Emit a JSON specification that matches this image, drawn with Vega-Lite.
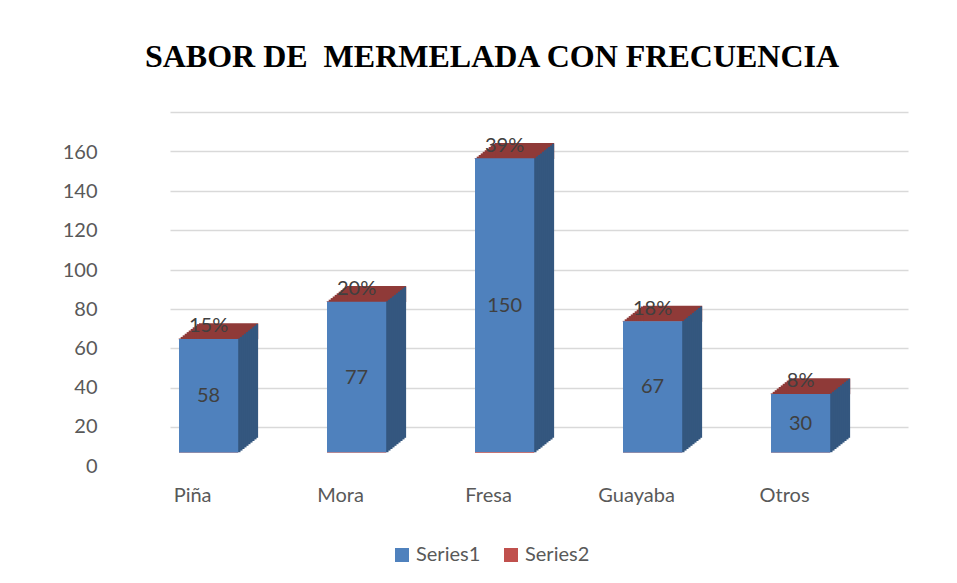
{
  "$schema": "https://vega.github.io/schema/vega-lite/v6.json",
  "width": 738,
  "height": 365,
  "autosize": {"type": "none"},
  "padding": {"left": 170, "top": 100, "right": 49, "bottom": 118},
  "background": "white",
  "config": {"view": {"stroke": null}, "font": "Lato"},
  "title": {
    "text": "SABOR DE\u00a0 MERMELADA CON FRECUENCIA",
    "font": "Liberation Serif",
    "fontSize": 32,
    "fontWeight": "bold",
    "color": "#000000",
    "anchor": "middle",
    "frame": "group",
    "dx": -47,
    "offset": 1,
    "baseline": "alphabetic"
  },
  "data": {
    "values": [
      {"Sabor": "Piña", "Series1": 58, "Series2": 0.15},
      {"Sabor": "Mora", "Series1": 77, "Series2": 0.20},
      {"Sabor": "Fresa", "Series1": 150, "Series2": 0.39},
      {"Sabor": "Guayaba", "Series1": 67, "Series2": 0.18},
      {"Sabor": "Otros", "Series1": 30, "Series2": 0.08}
    ]
  },
  "transform": [{"fold": ["Series1", "Series2"], "as": ["serie", "valor"]}],
  "layer": [
    {
      "mark": {"type": "point", "opacity": 0},
      "encoding": {
        "x": {"field": "Sabor", "type": "nominal", "sort": null, "scale": {"paddingInner": 0.6, "paddingOuter": 0.2932, "align": 0.1037}},
        "y": {
          "field": "Series1", "type": "quantitative",
          "scale": {"domain": [0, 160], "range": [327, 12], "nice": false},
          "axis": {"orient": "right", "grid": true, "gridColor": "#D9D9D9", "gridWidth": 1.5, "labels": false, "ticks": false, "domain": false, "title": null, "values": [0, 20, 40, 60, 80, 100, 120, 140, 160]}
        }
      }
    },
    {
      "transform": [{"filter": {"field": "serie", "equal": "Series1"}}],
      "mark": {"type": "bar", "color": "#8F3A38", "xOffset": 20, "yOffset": -16},
      "encoding": {
        "x": {"field": "Sabor", "type": "nominal", "sort": null},
        "y": {"field": "Series1", "type": "quantitative", "scale": {"domain": [0, 160], "range": [353, 39.4], "nice": false}, "axis": null},
        "y2": {"field": "Series1"}
      }
    },
    {"transform": [{"filter": {"field": "serie", "equal": "Series1"}}], "mark": {"type": "bar", "color": "#8F3A38", "width": 2.6, "xOffset": -28.6, "yOffset": -0.8, "y2Offset": 0}, "encoding": {"x": {"field": "Sabor", "type": "nominal", "sort": null}, "y": {"field": "Series1", "type": "quantitative", "scale": {"domain": [0, 160], "range": [353, 39.4], "nice": false}, "axis": null}, "y2": {"field": "Series1"}}},
    {"transform": [{"filter": {"field": "serie", "equal": "Series1"}}], "mark": {"type": "bar", "color": "#8F3A38", "width": 2.6, "xOffset": -26.6, "yOffset": -2.4, "y2Offset": 0}, "encoding": {"x": {"field": "Sabor", "type": "nominal", "sort": null}, "y": {"field": "Series1", "type": "quantitative", "scale": {"domain": [0, 160], "range": [353, 39.4], "nice": false}, "axis": null}, "y2": {"field": "Series1"}}},
    {"transform": [{"filter": {"field": "serie", "equal": "Series1"}}], "mark": {"type": "bar", "color": "#8F3A38", "width": 2.6, "xOffset": -24.6, "yOffset": -4.0, "y2Offset": 0}, "encoding": {"x": {"field": "Sabor", "type": "nominal", "sort": null}, "y": {"field": "Series1", "type": "quantitative", "scale": {"domain": [0, 160], "range": [353, 39.4], "nice": false}, "axis": null}, "y2": {"field": "Series1"}}},
    {"transform": [{"filter": {"field": "serie", "equal": "Series1"}}], "mark": {"type": "bar", "color": "#8F3A38", "width": 2.6, "xOffset": -22.6, "yOffset": -5.6, "y2Offset": 0}, "encoding": {"x": {"field": "Sabor", "type": "nominal", "sort": null}, "y": {"field": "Series1", "type": "quantitative", "scale": {"domain": [0, 160], "range": [353, 39.4], "nice": false}, "axis": null}, "y2": {"field": "Series1"}}},
    {"transform": [{"filter": {"field": "serie", "equal": "Series1"}}], "mark": {"type": "bar", "color": "#8F3A38", "width": 2.6, "xOffset": -20.6, "yOffset": -7.2, "y2Offset": 0}, "encoding": {"x": {"field": "Sabor", "type": "nominal", "sort": null}, "y": {"field": "Series1", "type": "quantitative", "scale": {"domain": [0, 160], "range": [353, 39.4], "nice": false}, "axis": null}, "y2": {"field": "Series1"}}},
    {"transform": [{"filter": {"field": "serie", "equal": "Series1"}}], "mark": {"type": "bar", "color": "#8F3A38", "width": 2.6, "xOffset": -18.6, "yOffset": -8.8, "y2Offset": 0}, "encoding": {"x": {"field": "Sabor", "type": "nominal", "sort": null}, "y": {"field": "Series1", "type": "quantitative", "scale": {"domain": [0, 160], "range": [353, 39.4], "nice": false}, "axis": null}, "y2": {"field": "Series1"}}},
    {"transform": [{"filter": {"field": "serie", "equal": "Series1"}}], "mark": {"type": "bar", "color": "#8F3A38", "width": 2.6, "xOffset": -16.6, "yOffset": -10.4, "y2Offset": 0}, "encoding": {"x": {"field": "Sabor", "type": "nominal", "sort": null}, "y": {"field": "Series1", "type": "quantitative", "scale": {"domain": [0, 160], "range": [353, 39.4], "nice": false}, "axis": null}, "y2": {"field": "Series1"}}},
    {"transform": [{"filter": {"field": "serie", "equal": "Series1"}}], "mark": {"type": "bar", "color": "#8F3A38", "width": 2.6, "xOffset": -14.6, "yOffset": -12.0, "y2Offset": 0}, "encoding": {"x": {"field": "Sabor", "type": "nominal", "sort": null}, "y": {"field": "Series1", "type": "quantitative", "scale": {"domain": [0, 160], "range": [353, 39.4], "nice": false}, "axis": null}, "y2": {"field": "Series1"}}},
    {"transform": [{"filter": {"field": "serie", "equal": "Series1"}}], "mark": {"type": "bar", "color": "#8F3A38", "width": 2.6, "xOffset": -12.6, "yOffset": -13.6, "y2Offset": 0}, "encoding": {"x": {"field": "Sabor", "type": "nominal", "sort": null}, "y": {"field": "Series1", "type": "quantitative", "scale": {"domain": [0, 160], "range": [353, 39.4], "nice": false}, "axis": null}, "y2": {"field": "Series1"}}},
    {"transform": [{"filter": {"field": "serie", "equal": "Series1"}}], "mark": {"type": "bar", "color": "#8F3A38", "width": 2.6, "xOffset": -10.6, "yOffset": -15.2, "y2Offset": 0}, "encoding": {"x": {"field": "Sabor", "type": "nominal", "sort": null}, "y": {"field": "Series1", "type": "quantitative", "scale": {"domain": [0, 160], "range": [353, 39.4], "nice": false}, "axis": null}, "y2": {"field": "Series1"}}},
    {"transform": [{"filter": {"field": "serie", "equal": "Series1"}}], "mark": {"type": "bar", "color": "#34577F", "width": 2.6, "xOffset": 30.6, "yOffset": -0.8, "y2Offset": -0.8}, "encoding": {"x": {"field": "Sabor", "type": "nominal", "sort": null}, "y": {"field": "Series1", "type": "quantitative", "scale": {"domain": [0, 160], "range": [353, 39.4], "nice": false}, "axis": null}, "y2": {"datum": 0}}},
    {"transform": [{"filter": {"field": "serie", "equal": "Series1"}}], "mark": {"type": "bar", "color": "#34577F", "width": 2.6, "xOffset": 32.6, "yOffset": -2.4, "y2Offset": -2.4}, "encoding": {"x": {"field": "Sabor", "type": "nominal", "sort": null}, "y": {"field": "Series1", "type": "quantitative", "scale": {"domain": [0, 160], "range": [353, 39.4], "nice": false}, "axis": null}, "y2": {"datum": 0}}},
    {"transform": [{"filter": {"field": "serie", "equal": "Series1"}}], "mark": {"type": "bar", "color": "#34577F", "width": 2.6, "xOffset": 34.6, "yOffset": -4.0, "y2Offset": -4.0}, "encoding": {"x": {"field": "Sabor", "type": "nominal", "sort": null}, "y": {"field": "Series1", "type": "quantitative", "scale": {"domain": [0, 160], "range": [353, 39.4], "nice": false}, "axis": null}, "y2": {"datum": 0}}},
    {"transform": [{"filter": {"field": "serie", "equal": "Series1"}}], "mark": {"type": "bar", "color": "#34577F", "width": 2.6, "xOffset": 36.6, "yOffset": -5.6, "y2Offset": -5.6}, "encoding": {"x": {"field": "Sabor", "type": "nominal", "sort": null}, "y": {"field": "Series1", "type": "quantitative", "scale": {"domain": [0, 160], "range": [353, 39.4], "nice": false}, "axis": null}, "y2": {"datum": 0}}},
    {"transform": [{"filter": {"field": "serie", "equal": "Series1"}}], "mark": {"type": "bar", "color": "#34577F", "width": 2.6, "xOffset": 38.6, "yOffset": -7.2, "y2Offset": -7.2}, "encoding": {"x": {"field": "Sabor", "type": "nominal", "sort": null}, "y": {"field": "Series1", "type": "quantitative", "scale": {"domain": [0, 160], "range": [353, 39.4], "nice": false}, "axis": null}, "y2": {"datum": 0}}},
    {"transform": [{"filter": {"field": "serie", "equal": "Series1"}}], "mark": {"type": "bar", "color": "#34577F", "width": 2.6, "xOffset": 40.6, "yOffset": -8.8, "y2Offset": -8.8}, "encoding": {"x": {"field": "Sabor", "type": "nominal", "sort": null}, "y": {"field": "Series1", "type": "quantitative", "scale": {"domain": [0, 160], "range": [353, 39.4], "nice": false}, "axis": null}, "y2": {"datum": 0}}},
    {"transform": [{"filter": {"field": "serie", "equal": "Series1"}}], "mark": {"type": "bar", "color": "#34577F", "width": 2.6, "xOffset": 42.6, "yOffset": -10.4, "y2Offset": -10.4}, "encoding": {"x": {"field": "Sabor", "type": "nominal", "sort": null}, "y": {"field": "Series1", "type": "quantitative", "scale": {"domain": [0, 160], "range": [353, 39.4], "nice": false}, "axis": null}, "y2": {"datum": 0}}},
    {"transform": [{"filter": {"field": "serie", "equal": "Series1"}}], "mark": {"type": "bar", "color": "#34577F", "width": 2.6, "xOffset": 44.6, "yOffset": -12.0, "y2Offset": -12.0}, "encoding": {"x": {"field": "Sabor", "type": "nominal", "sort": null}, "y": {"field": "Series1", "type": "quantitative", "scale": {"domain": [0, 160], "range": [353, 39.4], "nice": false}, "axis": null}, "y2": {"datum": 0}}},
    {"transform": [{"filter": {"field": "serie", "equal": "Series1"}}], "mark": {"type": "bar", "color": "#34577F", "width": 2.6, "xOffset": 46.6, "yOffset": -13.6, "y2Offset": -13.6}, "encoding": {"x": {"field": "Sabor", "type": "nominal", "sort": null}, "y": {"field": "Series1", "type": "quantitative", "scale": {"domain": [0, 160], "range": [353, 39.4], "nice": false}, "axis": null}, "y2": {"datum": 0}}},
    {"transform": [{"filter": {"field": "serie", "equal": "Series1"}}], "mark": {"type": "bar", "color": "#34577F", "width": 2.2, "xOffset": 48.4, "yOffset": -15.2, "y2Offset": -15.2}, "encoding": {"x": {"field": "Sabor", "type": "nominal", "sort": null}, "y": {"field": "Series1", "type": "quantitative", "scale": {"domain": [0, 160], "range": [353, 39.4], "nice": false}, "axis": null}, "y2": {"datum": 0}}},
    {
      "mark": {"type": "bar"},
      "encoding": {
        "x": {
          "field": "Sabor", "type": "nominal", "sort": null,
          "axis": {"title": null, "labelAngle": 0, "labelAlign": "center", "labelOffset": -16, "labelPadding": 30, "ticks": false, "tickSize": 0, "domain": false, "grid": false, "labelFontSize": 20, "labelColor": "#595959", "labelFont": "Lato"}
        },
        "y": {
          "field": "valor", "type": "quantitative", "stack": "zero",
          "scale": {"domain": [0, 160], "range": [353, 39.4], "nice": false},
          "axis": {"orient": "left", "title": null, "grid": false, "ticks": false, "tickSize": 0, "domain": false, "labelPadding": 73, "labelOffset": 13, "labelFontSize": 20, "labelColor": "#595959", "labelFont": "Lato", "values": [0, 20, 40, 60, 80, 100, 120, 140, 160]}
        },
        "color": {
          "field": "serie", "type": "nominal",
          "scale": {"domain": ["Series1", "Series2"], "range": ["#4F81BD", "#C0504D"]},
          "legend": {"title": null, "orient": "none", "direction": "horizontal", "legendX": 222, "legendY": 445, "symbolType": "square", "symbolSize": 196, "symbolStrokeWidth": 0, "labelFontSize": 20, "labelColor": "#595959", "labelFont": "Lato", "labelOffset": 4, "columnPadding": 20, "padding": 0}
        }
      }
    },
    {
      "transform": [{"filter": {"field": "serie", "equal": "Series1"}}],
      "mark": {"type": "text", "fontSize": 20, "color": "#404040", "baseline": "middle"},
      "encoding": {
        "x": {"field": "Sabor", "type": "nominal", "sort": null},
        "y": {"field": "Series1", "type": "quantitative", "scale": {"domain": [0, 320], "range": [353, 39.4], "nice": false}, "axis": null},
        "text": {"field": "Series1", "type": "quantitative"}
      }
    },
    {
      "transform": [{"filter": {"field": "serie", "equal": "Series2"}}],
      "mark": {"type": "text", "fontSize": 20, "color": "#404040", "baseline": "middle", "dy": -13},
      "encoding": {
        "x": {"field": "Sabor", "type": "nominal", "sort": null},
        "y": {"field": "Series1", "type": "quantitative", "scale": {"domain": [0, 160], "range": [353, 39.4], "nice": false}, "axis": null},
        "text": {"field": "valor", "type": "quantitative", "format": ".0%"}
      }
    }
  ],
  "resolve": {"scale": {"y": "independent"}, "axis": {"y": "independent"}}
}
